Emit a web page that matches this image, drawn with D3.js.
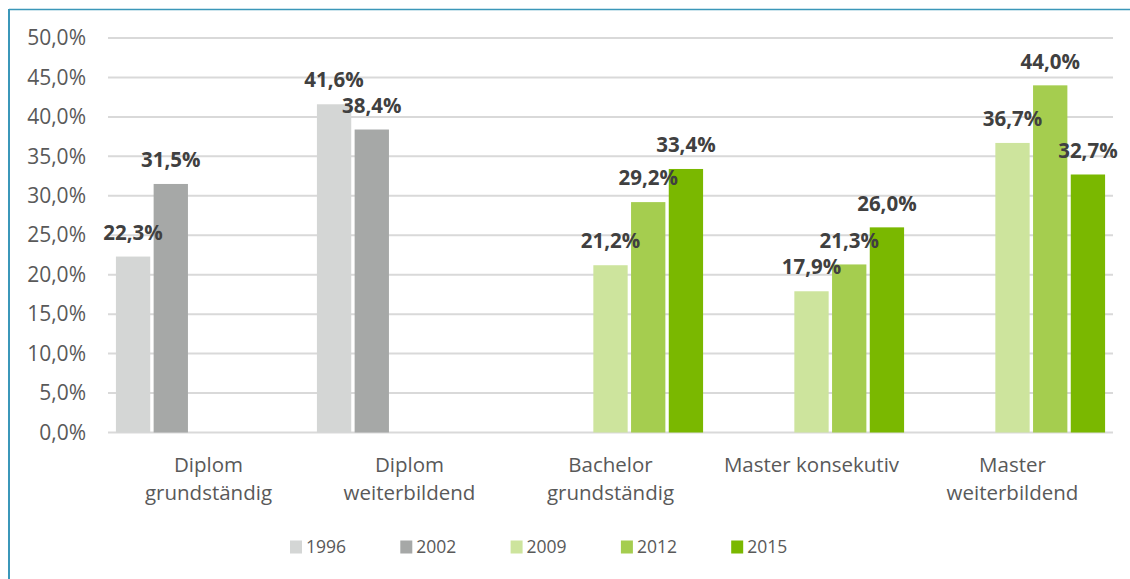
<!DOCTYPE html>
<html>
<head>
<meta charset="utf-8">
<script src="https://cdn.jsdelivr.net/npm/d3@7"></script>
<style>
  body { margin: 0; background: #fff; }
  svg { display: block; font-family: 'Open Sans', sans-serif; }
</style>
</head>
<body>
<svg width="1130" height="579"></svg>
<script>
const categories = [
  ['Diplom', 'grundständig'],
  ['Diplom', 'weiterbildend'],
  ['Bachelor', 'grundständig'],
  ['Master konsekutiv'],
  ['Master', 'weiterbildend'],
];
const years = ['1996', '2002', '2009', '2012', '2015'];
const colors = ['#d4d6d5', '#a6a8a7', '#cde49d', '#a5cd4f', '#7ab800'];
// one array per year, null where no value
const v1996 = [0.223, 0.416, null, null, null];
const v2002 = [0.315, 0.384, null, null, null];
const v2009 = [null, null, 0.212, 0.179, 0.367];
const v2012 = [null, null, 0.292, 0.213, 0.440];
const v2015 = [null, null, 0.334, 0.260, 0.327];
const yTicks = [0, 0.05, 0.1, 0.15, 0.2, 0.25, 0.3, 0.35, 0.4, 0.45, 0.5];

const series = [v1996, v2002, v2009, v2012, v2015];
const de = d3.formatLocale({ decimal: ',', thousands: '.', grouping: [3], currency: ['', '€'] });
const pct = de.format('.1%');

const svg = d3.select('svg');

// frame
svg.append('line').attr('x1', 9).attr('x2', 9).attr('y1', 9).attr('y2', 579)
  .attr('stroke', '#3b97b9').attr('stroke-width', 2);
svg.append('line').attr('x1', 9).attr('x2', 1130).attr('y1', 9.5).attr('y2', 9.5)
  .attr('stroke', '#3b97b9').attr('stroke-width', 1.5);

const x0 = d3.scaleBand().domain(d3.range(categories.length)).range([108, 1113]);
const x1 = d3.scaleBand().domain(years).range([0, x0.bandwidth()])
  .paddingInner(0.09).paddingOuter(0.21);
const y = d3.scaleLinear().domain([0, 0.5]).range([432.5, 38]);

// grid
svg.append('g').selectAll('line')
  .data(yTicks)
  .join('line')
  .attr('x1', 108).attr('x2', 1113)
  .attr('y1', (d) => y(d)).attr('y2', (d) => y(d))
  .attr('stroke', '#d9d9d9').attr('stroke-width', 2);

// y axis labels
const yAxis = svg.append('g').attr('transform', 'translate(86,0)')
  .call(d3.axisLeft(y).tickValues(yTicks).tickFormat(pct).tickSize(0).tickPadding(0));
yAxis.select('.domain').remove();
yAxis.selectAll('text').attr('fill', '#595959').style('font-size', '21px')
  .style('font-family', "'Open Sans', sans-serif");

// bars
const bars = [];
series.forEach((vals, si) => {
  vals.forEach((v, ci) => {
    if (v !== null) bars.push({ ci, year: years[si], color: colors[si], v });
  });
});

svg.append('g').selectAll('rect')
  .data(bars)
  .join('rect')
  .attr('x', (d) => x0(d.ci) + x1(d.year))
  .attr('y', (d) => y(d.v))
  .attr('width', x1.bandwidth())
  .attr('height', (d) => y(0) - y(d.v))
  .attr('fill', (d) => d.color);

svg.append('g').selectAll('text')
  .data(bars)
  .join('text')
  .attr('x', (d) => x0(d.ci) + x1(d.year) + x1.bandwidth() / 2)
  .attr('y', (d) => y(d.v) - 24)
  .attr('dy', '0.35em')
  .attr('text-anchor', 'middle')
  .attr('fill', '#404040')
  .style('font-size', '20.5px')
  .style('font-weight', 'bold')
  .text((d) => pct(d.v));

// category labels
const cat = svg.append('g').selectAll('text')
  .data(categories)
  .join('text')
  .attr('x', (d, i) => x0(i) + x0.bandwidth() / 2)
  .attr('y', 465)
  .attr('text-anchor', 'middle')
  .attr('fill', '#595959')
  .style('font-size', '20.5px');
cat.selectAll('tspan')
  .data((d) => d)
  .join('tspan')
  .attr('x', function () { return this.parentNode.getAttribute('x'); })
  .attr('dy', (d, i) => (i === 0 ? '0.35em' : '28px'))
  .text((d) => d);

// legend
const legend = svg.append('g').selectAll('g')
  .data(years)
  .join('g')
  .attr('transform', (d, i) => `translate(${290 + i * 110.3},547)`);
legend.append('rect')
  .attr('x', 0).attr('y', -6.5).attr('width', 12).attr('height', 13)
  .attr('fill', (d, i) => colors[i]);
legend.append('text')
  .attr('x', 16).attr('dy', '0.35em')
  .attr('fill', '#595959')
  .style('font-size', '17.5px')
  .text((d) => d);
</script>
</body>
</html>
